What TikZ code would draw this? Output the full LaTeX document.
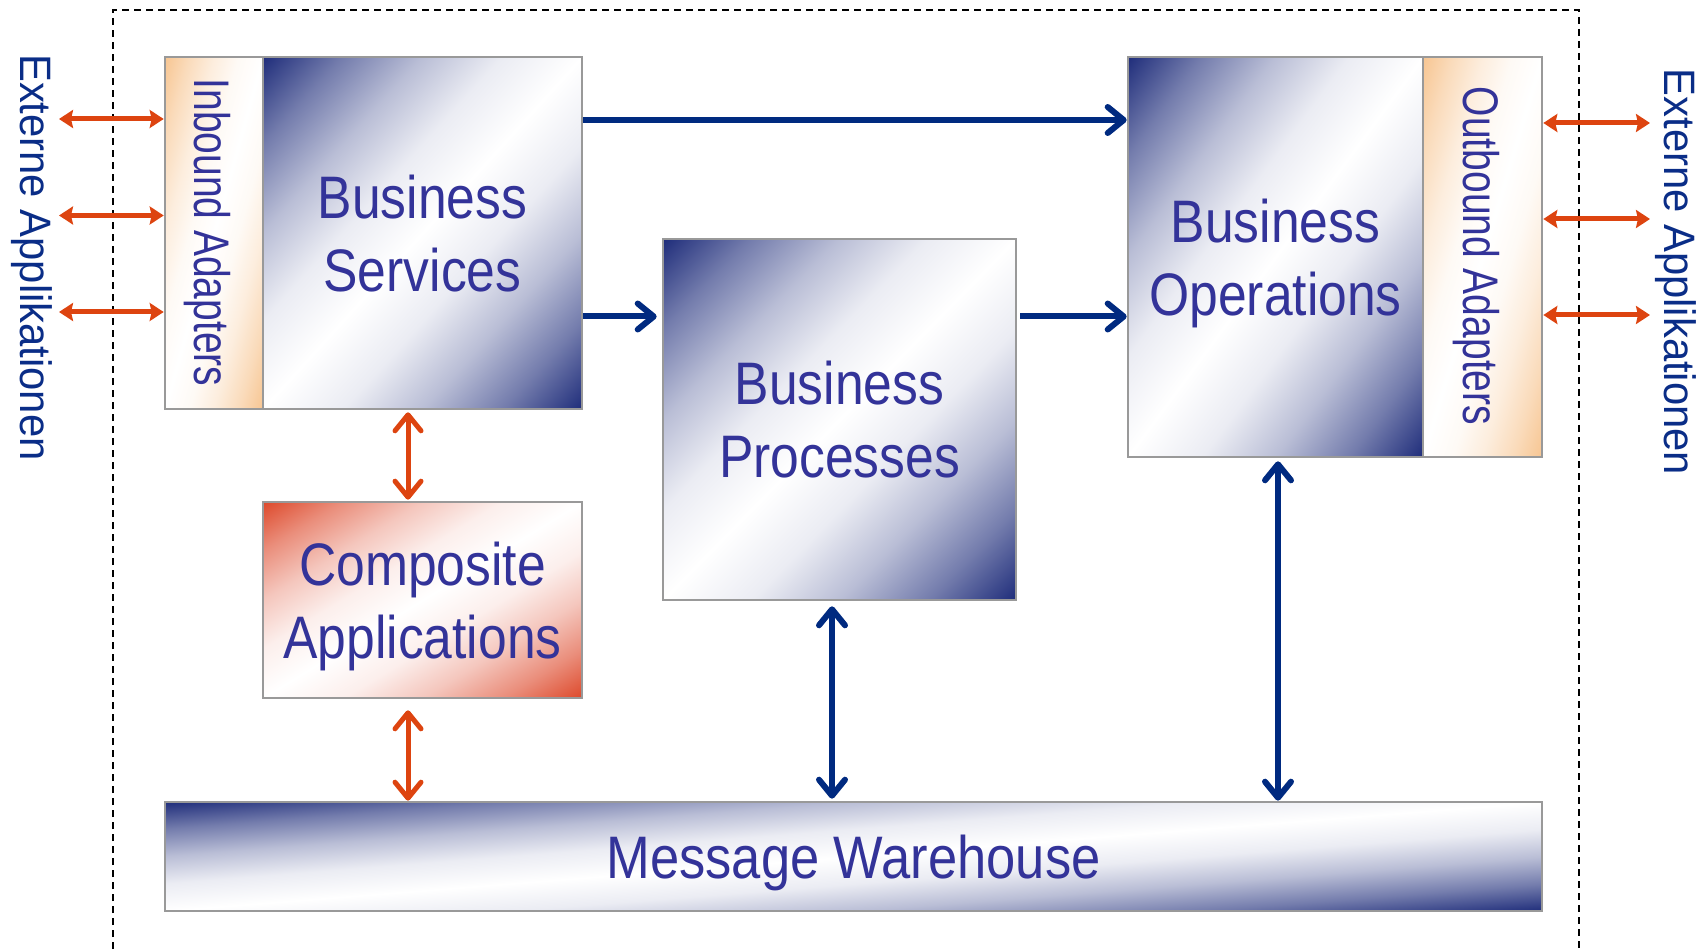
\documentclass[tikz,border=0pt]{standalone}
\usepackage{fontspec}
\usetikzlibrary{arrows.meta,calc}
\newfontfamily\boxfont[FakeStretch=0.86]{Liberation Sans}
\newfontfamily\mwfont[FakeStretch=0.875]{Liberation Sans}
\newfontfamily\adfont[FakeStretch=0.78]{Liberation Sans}
\newfontfamily\extfont[FakeStretch=0.95]{Liberation Sans}
\definecolor{navyG}{RGB}{30,44,122}
\definecolor{orangeG}{RGB}{247,197,145}
\definecolor{redG}{RGB}{221,72,42}
\definecolor{txtB}{RGB}{51,51,153}
\definecolor{txtE}{RGB}{10,45,135}
\definecolor{arrO}{RGB}{221,68,16}
\definecolor{arrB}{RGB}{0,42,128}
\definecolor{edgeG}{RGB}{153,153,153}

\newcommand{\mkshading}[2]{%
  \pgfdeclareverticalshading{#1}{100bp}{color(0bp)=(#2); color(25bp)=(#2);
    color(31.25bp)=(#2!62); color(37.5bp)=(#2!31); color(43.75bp)=(#2!9);
    color(50bp)=(white);
    color(56.25bp)=(#2!9); color(62.5bp)=(#2!31); color(68.75bp)=(#2!62);
    color(75bp)=(#2); color(100bp)=(#2)}}
\mkshading{gnavy}{navyG}
\mkshading{gorange}{orangeG}
\mkshading{gred}{redG}

\newcommand{\gradfill}[5]{%
  \pgfmathsetmacro{\gw}{#3-#1}%
  \pgfmathsetmacro{\gh}{#4-#2}%
  \pgfmathsetmacro{\gn}{veclen(\gw,\gh)}%
  \pgfmathsetmacro{\gd}{\gw/\gn*\gh+0.5}%
  \pgfmathsetmacro{\ga}{atan2(\gh,\gw)}%
  \pgfmathsetmacro{\gl}{\gn/2+6}%
  \begin{scope}
    \clip (#1,#2) rectangle (#3,#4);
    \begin{scope}[transform canvas={shift={({(#1+#3)/2},{(#2+#4)/2})},rotate=\ga}]
      \shade[shading=#5] (-\gl,-\gd) rectangle (\gl,\gd);
    \end{scope}
  \end{scope}
}

\tikzset{
  boxline/.style={draw=edgeG, line width=2.6pt, inner sep=0pt, text=txtB,
    font=\boxfont\fontsize{60}{73}\selectfont, align=center, text depth=0pt},
  adlbl/.style={inner sep=0pt, text=txtB, font=\adfont\fontsize{50}{56}\selectfont, text depth=0pt},
  extlbl/.style={inner sep=0pt, text=txtE, font=\extfont\fontsize{44}{50}\selectfont, text depth=0pt},
  frameline/.style={draw=black, line width=1.6pt, dash pattern=on 7pt off 5pt},
  blarrow/.style={draw=arrB, line width=6pt, -{Straight Barb[round,length=16pt,width=26pt]}},
  bldouble/.style={draw=arrB, line width=6pt, {Straight Barb[round,length=16pt,width=26pt]}-{Straight Barb[round,length=16pt,width=26pt]}},
  ordouble/.style={draw=arrO, line width=5pt, {Straight Barb[round,length=16pt,width=26pt]}-{Straight Barb[round,length=16pt,width=26pt]}},
  smdouble/.style={draw=arrO, line width=5pt, {Stealth[length=14pt,width=18pt,inset=2pt]}-{Stealth[length=14pt,width=18pt,inset=2pt]}}
}

\begin{document}
\begin{tikzpicture}[x=1pt,y=-1pt]
\useasboundingbox (0,0) rectangle (1705,949);

% gradients
\gradfill{165}{57}{263}{409}{gorange}
\gradfill{263}{57}{582}{409}{gnavy}
\gradfill{663}{239}{1016}{600}{gnavy}
\gradfill{1128}{57}{1423}{457}{gnavy}
\gradfill{1423}{57}{1542}{457}{gorange}
\gradfill{263}{502}{582}{698}{gred}
\gradfill{165}{802}{1542}{911}{gnavy}

% frame
\draw[frameline] (113,949) -- (113,10) -- (1579,10) -- (1579,949);

% boxes
\node[boxline, minimum width=98pt, minimum height=352pt] (ib) at (214,233) {};
\node[boxline, minimum width=319pt, minimum height=352pt] (bs) at (422.5,233) {Business\\Services};
\node[boxline, minimum width=353pt, minimum height=361pt] (bp) at (839.5,419.5) {Business\\Processes};
\node[boxline, minimum width=295pt, minimum height=400pt] (bo) at (1275.5,257) {Business\\Operations};
\node[boxline, minimum width=119pt, minimum height=400pt] (ob) at (1482.5,257) {};
\node[boxline, minimum width=319pt, minimum height=196pt] (ca) at (422.5,600) {Composite\\Applications};
\node[boxline, minimum width=1377pt, minimum height=109pt, font=\mwfont\fontsize{60}{73}\selectfont] (mw) at (853.5,856.5) {Message Warehouse};

% rotated labels
\node[adlbl, rotate=-90] (ibt) at (213,232.5) {Inbound Adapters};
\node[adlbl, rotate=-90] (obt) at (1482,256) {Outbound Adapters};
\node[extlbl, rotate=-90] (extL) at (36,257.5) {Externe Applikationen};
\node[extlbl, rotate=-90] (extR) at (1680,272) {Externe Applikationen};

% helper coordinates
\coordinate (la1) at (59,119);
\coordinate (la2) at (59,215.5);
\coordinate (la3) at (59,312);
\coordinate (ra1) at (1650,123);
\coordinate (ra2) at (1650,219);
\coordinate (ra3) at (1650,315);
\coordinate (ytop) at (0,120);
\coordinate (ymid) at (0,316.5);
\coordinate (xo) at (408,0);
\coordinate (xp) at (832,0);
\coordinate (xq) at (1278,0);

% external arrows
\draw[smdouble] (la1) -- (la1 -| ib.west);
\draw[smdouble] (la2) -- (la2 -| ib.west);
\draw[smdouble] (la3) -- (la3 -| ib.west);
\draw[smdouble] (ra1 -| ob.east) -- (ra1);
\draw[smdouble] (ra2 -| ob.east) -- (ra2);
\draw[smdouble] (ra3 -| ob.east) -- (ra3);

% blue arrows
\draw[blarrow] (bs.east |- ytop) -- (bo.west |- ytop);
\draw[blarrow, shorten >=5pt] (bs.east |- ymid) -- (bp.west |- ymid);
\draw[blarrow, shorten <=3pt] (bp.east |- ymid) -- (bo.west |- ymid);
\draw[bldouble, shorten <=5pt, shorten >=2pt] (bp.south -| xp) -- (mw.north -| xp);
\draw[bldouble, shorten <=3pt] (bo.south -| xq) -- (mw.north -| xq);

% orange vertical arrows
\draw[ordouble, shorten <=2pt, shorten >=1pt] (bs.south -| xo) -- (ca.north -| xo);
\draw[ordouble, shorten <=11pt] (ca.south -| xo) -- (mw.north -| xo);
\end{tikzpicture}
\end{document}
